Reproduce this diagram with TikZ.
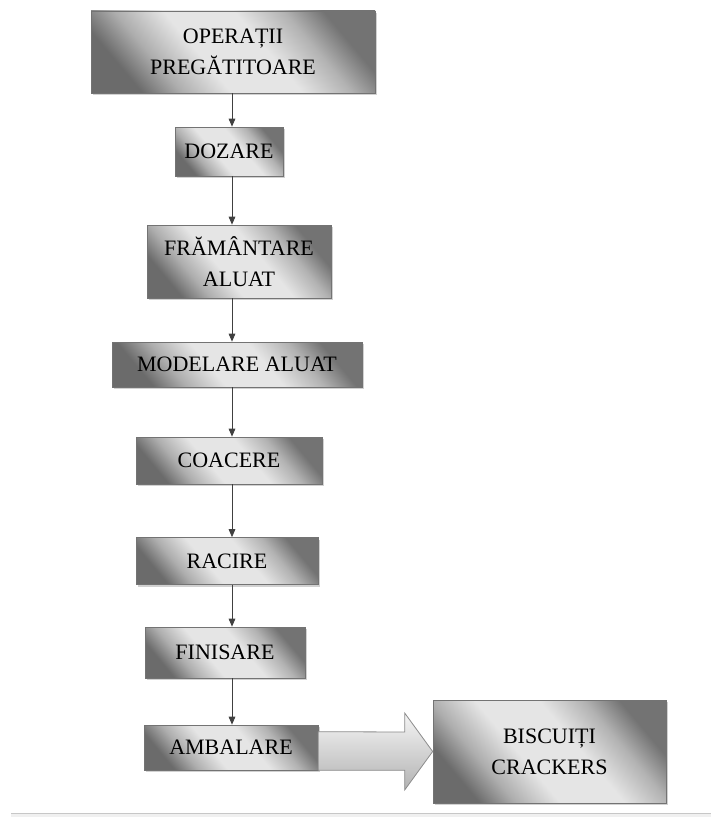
\documentclass[tikz,border=0pt]{standalone}
\usepackage{fontspec}
\setmainfont{Liberation Serif}
\usetikzlibrary{calc,arrows.meta,shadows}

\pgfdeclareverticalshading{etapashade}{100bp}{color(0bp)=(black!58); color(25bp)=(black!58);
    color(33bp)=(black!32); color(43bp)=(black!10); color(57bp)=(black!10);
    color(67bp)=(black!30); color(75bp)=(black!55); color(100bp)=(black!55)}

\tikzset{
    etapa/.style={draw=black!55, line width=0.5pt, inner sep=0pt, align=center,
        shading=etapashade, shading angle=-50,
        drop shadow={shadow xshift=1.5pt, shadow yshift=-1.5pt, fill=black!30, opacity=0.6},
        font=\fontsize{16.5}{23.5}\selectfont},
    flux/.style={draw=black!75, line width=0.6pt, -{Triangle[length=6pt,width=5pt]}},
    sageata/.style={draw=black!45, line width=0.6pt, top color=black!4, bottom color=black!30}
}

\begin{document}
\begin{tikzpicture}[x=0.75pt,y=-0.75pt]
    \useasboundingbox (0,0) rectangle (711,817);

    % process steps
        \node[etapa, minimum width=213pt, minimum height=61.5pt] (op) at (233,52) {OPERAȚII\\PREGĂTITOARE};
        \node[etapa, minimum width=81pt, minimum height=36.75pt] (doz) at (229,151.5) {DOZARE};
        \node[etapa, minimum width=138pt, minimum height=54.75pt] (fram) at (239,261.5) {FRĂMÂNTARE\\ALUAT};
        \node[etapa, minimum width=187.5pt, minimum height=33.75pt] (mod) at (237,364.5) {MODELARE ALUAT};
        \node[etapa, minimum width=139.5pt, minimum height=35.25pt] (coac) at (229,460.5) {COACERE};
        \node[etapa, minimum width=136.5pt, minimum height=35.25pt] (rac) at (227,561) {RACIRE};
        \node[etapa, minimum width=120pt, minimum height=38.25pt] (fin) at (225,652.5) {FINISARE};
        \node[etapa, minimum width=130.5pt, minimum height=33.75pt] (amb) at (231,747.5) {AMBALARE};
        \node[etapa, minimum width=174.75pt, minimum height=77.25pt] (bisc) at (549.5,751.5) {BISCUIȚI\\CRACKERS};

    % vertical flow
        \coordinate (ax) at (232,0);
        \draw[flux] (op.south -| ax) -- (doz.north -| ax);
        \draw[flux] (doz.south -| ax) -- (fram.north -| ax);
        \draw[flux] (fram.south -| ax) -- (mod.north -| ax);
        \draw[flux] (mod.south -| ax) -- (coac.north -| ax);
        \draw[flux] (coac.south -| ax) -- (rac.north -| ax);
        \draw[flux] (rac.south -| ax) -- (fin.north -| ax);
        \draw[flux] (fin.south -| ax) -- (amb.north -| ax);

    % block arrow to product
        \coordinate (hb) at ($(bisc.west)+(-28,0)$);
        \path[sageata] (amb.south east) -- (amb.south east -| hb) -- ($(hb)+(0,38.5)$)
            -- (bisc.west) -- ($(hb)+(0,-38.5)$) -- ($(hb)+(0,-19.5)$)
            -- ($(amb.north east)+(0,7)$) -- cycle;

    % bottom strip
        \fill[black!6] (11,813) rectangle (711,817);
        \draw[black!22, line width=0.5pt] (11,813) -- (711,813);
\end{tikzpicture}
\end{document}
